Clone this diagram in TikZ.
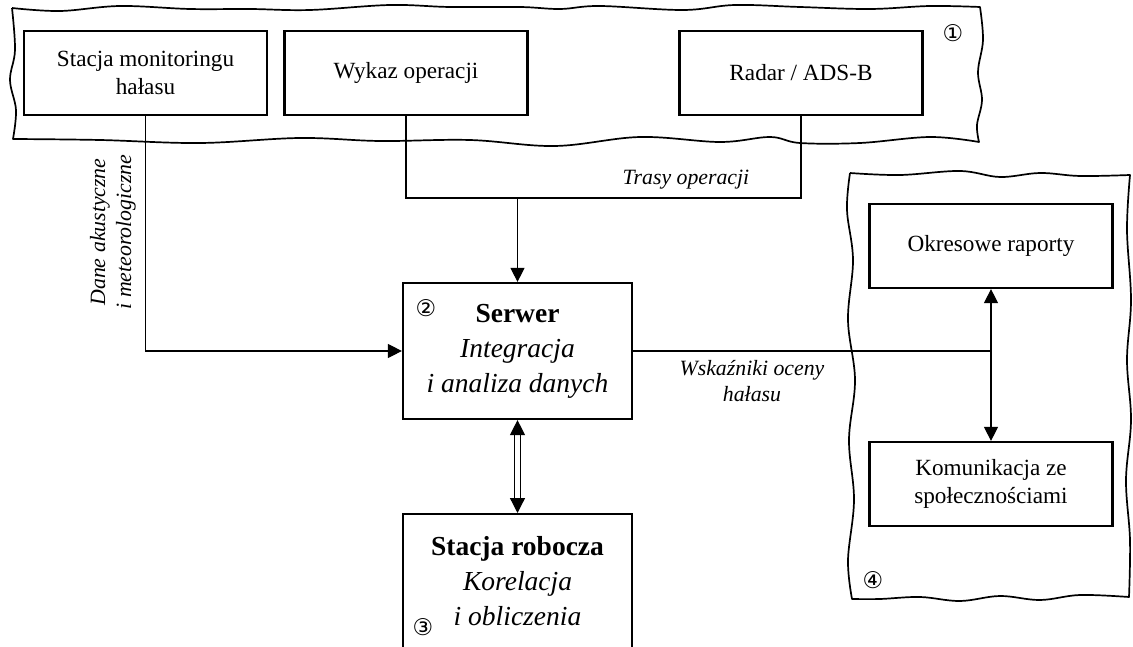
\documentclass[tikz,border=0pt]{standalone}
\usepackage{fontspec}
\setmainfont{Liberation Serif}
\newfontfamily\symfont{DejaVu Sans}
\usetikzlibrary{arrows.meta}

\begin{document}
\begin{tikzpicture}[x=1pt, y=-1pt,
  box/.style={draw, line width=2.2pt, inner sep=0pt, align=center,
    font=\fontsize{23.2}{28}\selectfont},
  smallbox/.style={box, minimum width=243pt, minimum height=84pt},
  bigbox/.style={box, minimum width=229pt},
  conn/.style={line width=1.1pt},
  tip/.style={-{Triangle[length=14pt,width=14pt]}},
  tips/.style={{Triangle[length=14pt,width=14pt]}-{Triangle[length=14pt,width=14pt]}},
  lbl/.style={inner sep=0pt, align=center, font=\fontsize{21.8}{26}\selectfont\itshape},
  bigtext/.style={inner sep=0pt, align=center, font=\fontsize{27.5}{35}\selectfont},
  num/.style={inner sep=0pt, font=\symfont\fontsize{23}{23}\selectfont},
  wavy/.style={line width=1.7pt, line join=round}]

\useasboundingbox (0,0) rectangle (1133,647);
\clip (0,0) rectangle (1133,647);

% ---- sources panel (wavy frame) ----
\draw[wavy] plot[smooth, tension=0.6] coordinates {(12,8) (60,11) (120,6) (190,9) (250,9) (310,10) (390,5) (450,7) (520,7) (560,9) (600,6) (683,10) (735,5) (800,7) (870,9) (930,6) (980,7)}
  -- plot[smooth, tension=0.6] coordinates {(980,7) (983,40) (978,72) (982,100) (977,125) (979,142)}
  -- plot[smooth, tension=0.6] coordinates {(979,142) (930,137) (860,143) (800,143) (770,137) (720,142) (640,137) (555,146) (470,140) (380,141) (300,138) (200,143) (100,140) (13,139)}
  -- plot[smooth, tension=0.6] coordinates {(13,139) (16,110) (10,80) (15,50) (12,8)};

% ---- outputs panel (wavy frame) ----
\draw[wavy] plot[smooth, tension=0.6] coordinates {(850,173) (900,175) (960,171) (1000,177) (1040,173) (1080,176) (1130,175)}
  -- plot[smooth, tension=0.6] coordinates {(1130,175) (1127,230) (1131,300) (1127,360) (1131,420) (1126,480) (1130,540) (1129,597)}
  -- plot[smooth, tension=0.6] coordinates {(1129,597) (1080,595) (1040,600) (1000,596) (960,601) (920,597) (880,599) (852,599)}
  -- plot[smooth, tension=0.6] coordinates {(852,599) (848,560) (854,500) (849,440) (855,380) (848,320) (853,260) (847,210) (850,173)};

% ---- boxes ----
\node[smallbox] (mon) at (145.5,73) {Stacja monitoringu\\hałasu};
\node[smallbox] (wyk) at (406,73) {Wykaz operacji};
\node[smallbox] (rad) at (801,73) {Radar / ADS-B};

\node[bigbox, minimum height=136pt] (srv) at (517.5,351) {};
\node[bigtext] (srvtext) at (517.5,351) {\textbf{Serwer}\\\textit{Integracja}\\\textit{i analiza danych}};

\node[bigbox, minimum height=150pt, anchor=north] (ws) at (517.5,513) {};
\node[bigtext] (wstext) at (517.5,581) {\textbf{Stacja robocza}\\\textit{Korelacja}\\\textit{i obliczenia}};

\node[smallbox] (okr) at (991,246) {Okresowe raporty};
\node[smallbox] (kom) at (991,484) {Komunikacja ze\\społecznościami};

% ---- numbers ----
\node[num] (n1) at (953,33) {①};
\node[num] (n2) at (426,308) {②};
\node[num] (n3) at (423,627) {③};
\node[num] (n4) at (873,580) {④};

% ---- connectors ----
\coordinate (tj) at (517.5,198);
\draw[conn] (wyk.south) -- (wyk.south |- tj) -- (rad.south |- tj) -- (rad.south);
\draw[conn, tip] (tj) -- (srv.north);
\node[lbl] (trasy) at (686,180) {Trasy operacji};

\draw[conn, tip] (mon.south) |- (srv.west);
\node[lbl, rotate=90] (dane) at (113,232) {Dane akustyczne\\i meteorologiczne};

\draw[conn] (srv.east) -- (okr.south |- srv.east);
\draw[conn, tips] (okr.south) -- (kom.north);
\node[lbl] (wsk) at (752,381) {Wskaźniki oceny\\hałasu};

\draw[line width=1.3pt, double, double distance=4.5pt,
  {Triangle[length=15pt,width=15pt]}-{Triangle[length=15pt,width=15pt]}] (srv.south) -- (ws.north);

\end{tikzpicture}
\end{document}
